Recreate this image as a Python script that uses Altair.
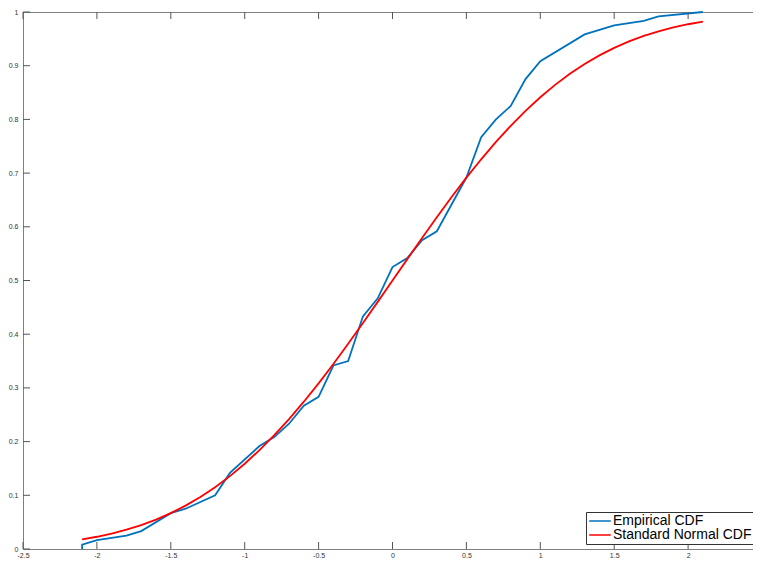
import altair as alt
import pandas as pd

# Empirical CDF vertices (x, F)
emp_x = [-2.1, -2.1, -2.0, -1.8, -1.7, -1.5, -1.4, -1.2, -1.1, -0.9, -0.8, -0.7,
         -0.6, -0.5, -0.4, -0.3, -0.2, -0.1, 0.0, 0.1, 0.2, 0.3, 0.5, 0.6, 0.7,
         0.8, 0.9, 1.0, 1.3, 1.5, 1.7, 1.8, 2.1]
emp_y = [0.0, 0.0083, 0.0167, 0.025, 0.0333, 0.0667, 0.075, 0.1, 0.1417, 0.1917,
         0.2083, 0.2333, 0.2667, 0.2833, 0.3417, 0.35, 0.4333, 0.4667, 0.525,
         0.5417, 0.575, 0.5917, 0.6917, 0.7667, 0.8, 0.825, 0.875, 0.9083,
         0.9583, 0.975, 0.9833, 0.9917, 1.0]

# Standard normal CDF read at 0.1 steps
norm_x = [-2.1, -2.0, -1.9, -1.8, -1.7, -1.6, -1.5, -1.4, -1.3, -1.2, -1.1, -1.0,
          -0.9, -0.8, -0.7, -0.6, -0.5, -0.4, -0.3, -0.2, -0.1, 0.0, 0.1, 0.2,
          0.3, 0.4, 0.5, 0.6, 0.7, 0.8, 0.9, 1.0, 1.1, 1.2, 1.3, 1.4, 1.5, 1.6,
          1.7, 1.8, 1.9, 2.0, 2.1]
norm_y = [0.0179, 0.0228, 0.0287, 0.0359, 0.0446, 0.0548, 0.0668, 0.0808, 0.0968,
          0.1151, 0.1357, 0.1587, 0.1841, 0.2119, 0.2420, 0.2743, 0.3085, 0.3446,
          0.3821, 0.4207, 0.4602, 0.5, 0.5398, 0.5793, 0.6179, 0.6554, 0.6915,
          0.7257, 0.7580, 0.7881, 0.8159, 0.8413, 0.8643, 0.8849, 0.9032, 0.9192,
          0.9332, 0.9452, 0.9554, 0.9641, 0.9713, 0.9772, 0.9821]

series_names = ["Empirical CDF", "Standard Normal CDF"]
series_colors = ["#0072BD", "#FF0000"]

x_ticks = [-2.5, -2, -1.5, -1, -0.5, 0, 0.5, 1, 1.5, 2, 2.5]
y_ticks = [0, 0.1, 0.2, 0.3, 0.4, 0.5, 0.6, 0.7, 0.8, 0.9, 1]

W, H = 739, 537
TICK = 7
FONT = "Liberation Sans"

rows = []
for i, (a, b) in enumerate(zip(emp_x, emp_y)):
    rows.append({"x": a, "y": b, "series": series_names[0], "i": i})
for i, (a, b) in enumerate(zip(norm_x, norm_y)):
    rows.append({"x": a, "y": b, "series": series_names[1], "i": i})
df = pd.DataFrame(rows)

xt = pd.DataFrame({"x": x_ticks})
yt = pd.DataFrame({"y": y_ticks})

x_scale = alt.Scale(domain=[-2.5, 2.5], nice=False, zero=False)
y_scale = alt.Scale(domain=[0, 1], nice=False, zero=False)

x_axis = alt.Axis(values=x_ticks, ticks=False, domain=False, grid=False, title=None,
                  labelExpr="datum.value + ''", labelFontSize=7, labelFont=FONT,
                  labelColor="#333", labelPadding=2, labelFlush=False, labelOverlap=False,
                  labelBound=False)
y_axis = alt.Axis(values=y_ticks, ticks=False, domain=False, grid=False, title=None,
                  labelExpr="datum.value + ''", labelFontSize=7, labelFont=FONT,
                  labelColor="#333", labelPadding=5, labelFlush=False, labelOverlap=False,
                  labelBound=False)

lines = alt.Chart(df).mark_line(strokeWidth=1.8).encode(
    x=alt.X("x:Q", scale=x_scale, axis=x_axis),
    y=alt.Y("y:Q", scale=y_scale, axis=y_axis),
    color=alt.Color("series:N",
                    scale=alt.Scale(domain=series_names, range=series_colors),
                    legend=alt.Legend(title=None, orient="none", legendX=563, legendY=500,
                                      symbolType="M-1.8,0L1.8,0", symbolSize=144,
                                      symbolOffset=5,
                                      symbolStrokeWidth=1.5, labelFontSize=14,
                                      labelFont=FONT, labelColor="black",
                                      strokeColor="#333", fillColor="white",
                                      padding=2, rowPadding=-2, labelOffset=6)),
    order=alt.Order("i:Q"),
)

tick_color = "#555"
bottom_ticks = alt.Chart(xt).mark_rule(color=tick_color, strokeWidth=1).encode(
    x=alt.X("x:Q", scale=x_scale, axis=x_axis),
    y=alt.value(H), y2=alt.value(H - TICK))
top_ticks = alt.Chart(xt).mark_rule(color=tick_color, strokeWidth=1).encode(
    x=alt.X("x:Q", scale=x_scale, axis=x_axis),
    y=alt.value(0), y2=alt.value(TICK))
left_ticks = alt.Chart(yt).mark_rule(color=tick_color, strokeWidth=1).encode(
    y=alt.Y("y:Q", scale=y_scale, axis=y_axis),
    x=alt.value(0), x2=alt.value(TICK))
right_ticks = alt.Chart(yt).mark_rule(color=tick_color, strokeWidth=1).encode(
    y=alt.Y("y:Q", scale=y_scale, axis=y_axis),
    x=alt.value(W), x2=alt.value(W - TICK))

chart = alt.layer(lines, bottom_ticks, top_ticks, left_ticks, right_ticks).properties(
    width=W, height=H,
    autosize=alt.AutoSizeParams(type="none"),
    padding={"left": 15, "top": 4, "right": -9, "bottom": 9},
).configure_view(stroke="#808080", strokeWidth=1)

chart.save("out.html", embed_options={"renderer": "svg", "actions": False})
